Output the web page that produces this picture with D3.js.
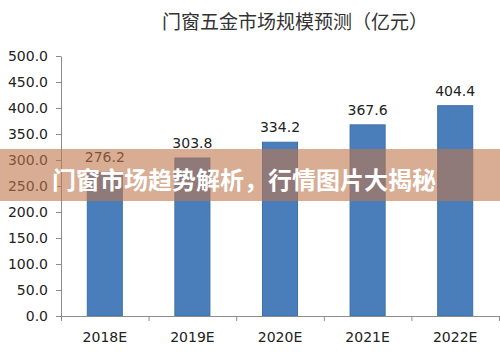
<!DOCTYPE html>
<html lang="en">
<head>
    <meta charset="utf-8">
    <script src="https://d3js.org/d3.v7.min.js"></script>
    <style>
        body { margin: 0; background: #fff; }
        .axis path, .axis line { stroke: #8c8c8c; }
        .axis text { font-family: "DejaVu Sans", sans-serif; fill: #222; }
    </style>
</head>
<body>
    <div id="chart"></div>
    <script>
        // chart data
        const years = ["2018E", "2019E", "2020E", "2021E", "2022E"];
        const marketSize = [276.2, 303.8, 334.2, 367.6, 404.4];
        const yTicks = [0, 50, 100, 150, 200, 250, 300, 350, 400, 450, 500];
        const title = "门窗五金市场规模预测（亿元）";
        const bannerText = "门窗市场趋势解析，行情图片大揭秘";

        const W = 500, H = 353;
        const plotLeft = 61, plotRight = 499, plotTop = 56, plotBottom = 316;

        const svg = d3.select("#chart").append("svg")
            .attr("width", W)
            .attr("height", H);

        // scales
        const x = d3.scaleBand()
            .domain(years)
            .range([plotLeft, plotRight])
            .paddingInner(0.6)
            .paddingOuter(0.3);

        const xEdge = d3.scaleLinear()
            .domain([0, years.length])
            .range([plotLeft, plotRight]);

        const y = d3.scaleLinear()
            .domain([0, 500])
            .range([plotBottom, plotTop]);

        // title
        svg.append("text")
            .attr("x", 295)
            .attr("y", 29)
            .attr("text-anchor", "middle")
            .style("font-family", "'Noto Sans CJK SC', sans-serif")
            .style("font-size", "19px")
            .style("fill", "#333")
            .text(title);

        // y axis
        svg.append("g")
            .attr("class", "axis")
            .attr("transform", `translate(${plotLeft},0)`)
            .call(d3.axisLeft(y).tickValues(yTicks).tickFormat(d3.format(".1f")).tickSize(5).tickSizeOuter(0).tickPadding(8))
            .selectAll("text").style("font-size", "14px");

        // bars
        svg.append("g")
            .selectAll("rect")
            .data(marketSize)
            .join("rect")
            .attr("x", (d, i) => x(years[i]))
            .attr("y", d => y(d))
            .attr("width", x.bandwidth())
            .attr("height", d => y(0) - y(d))
            .style("fill", "#4a7ebb")
            .style("stroke", "#3f6fa8")
            .style("stroke-width", 1);

        // value labels
        svg.append("g")
            .selectAll("text")
            .data(marketSize)
            .join("text")
            .attr("x", (d, i) => x(years[i]) + x.bandwidth() / 2)
            .attr("y", d => y(d) - 10)
            .attr("text-anchor", "middle")
            .style("font-family", "'DejaVu Sans', sans-serif")
            .style("font-size", "14px")
            .style("fill", "#222")
            .text(d => d.toFixed(1));

        // x axis: boundary ticks
        svg.append("g")
            .attr("class", "axis")
            .attr("transform", `translate(0,${plotBottom})`)
            .call(d3.axisBottom(xEdge).tickValues(d3.range(0, years.length + 1)).tickFormat("").tickSize(5).tickSizeOuter(0));

        // x axis: category labels
        svg.append("g")
            .attr("class", "axis")
            .attr("transform", `translate(0,${plotBottom})`)
            .call(d3.axisBottom(x).tickSize(0).tickPadding(16))
            .call(g => g.select(".domain").remove())
            .selectAll("text").style("font-size", "14px");

        // overlay banner
        svg.append("rect")
            .attr("x", 0)
            .attr("y", 149)
            .attr("width", W)
            .attr("height", 52)
            .style("fill", "rgb(190,118,77)")
            .style("opacity", 0.6);

        svg.append("text")
            .attr("x", 52)
            .attr("y", 189)
            .style("font-family", "'Noto Sans CJK SC', sans-serif")
            .style("font-weight", "bold")
            .style("font-size", "24px")
            .style("fill", "#fff")
            .text(bannerText);
    </script>
</body>
</html>
